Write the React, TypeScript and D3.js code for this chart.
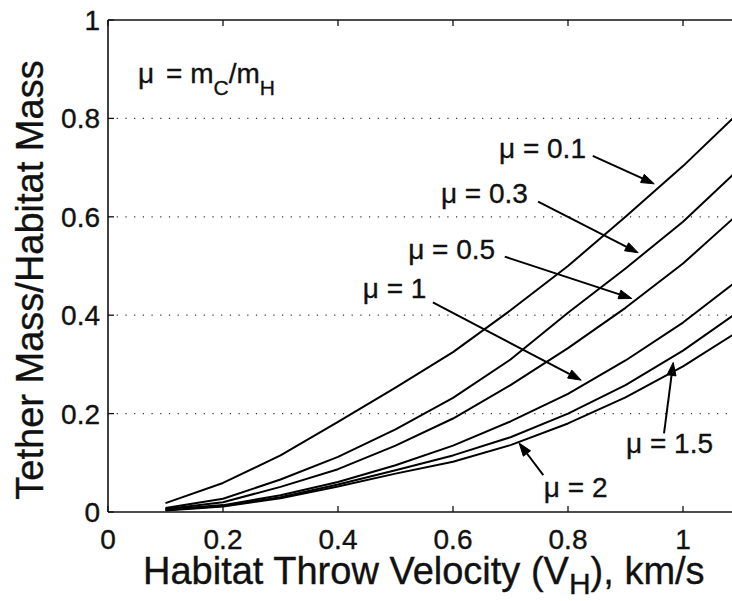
import * as d3 from 'd3';

// habitat throw velocity, km/s
const velocity = [0.1, 0.2, 0.3, 0.4, 0.5, 0.6, 0.7, 0.8, 0.9, 1.0, 1.1];

// tether mass / habitat mass, one array per mu = mC/mH
const mu01 = [0.018, 0.059, 0.115, 0.183, 0.253, 0.325, 0.41, 0.5, 0.6, 0.703, 0.815];
const mu03 = [0.008, 0.027, 0.066, 0.112, 0.168, 0.232, 0.31, 0.405, 0.495, 0.59, 0.7];
const mu05 = [0.006, 0.02, 0.051, 0.087, 0.135, 0.19, 0.258, 0.333, 0.415, 0.505, 0.61];
const mu1 = [0.005, 0.014, 0.034, 0.061, 0.095, 0.135, 0.184, 0.24, 0.308, 0.385, 0.475];
const mu15 = [0.004, 0.012, 0.03, 0.056, 0.085, 0.115, 0.152, 0.2, 0.258, 0.328, 0.41];
const mu2 = [0.003, 0.011, 0.028, 0.052, 0.078, 0.102, 0.136, 0.18, 0.233, 0.296, 0.37];

const series = [mu01, mu03, mu05, mu1, mu15, mu2];

const xTicks = [0, 0.2, 0.4, 0.6, 0.8, 1];
const yTicks = [0, 0.2, 0.4, 0.6, 0.8, 1];
const gridValues = [0.2, 0.4, 0.6, 0.8];

// curve labels: text anchor, arrow tail, arrow tip (data units)
const labels = [
  { text: '0.1', at: [0.68, 0.72], from: [0.843, 0.724], to: [0.95, 0.667] },
  { text: '0.3', at: [0.579, 0.629], from: [0.748, 0.631], to: [0.922, 0.527] },
  { text: '0.5', at: [0.522, 0.515], from: [0.69, 0.519], to: [0.911, 0.434] },
  { text: '1', at: [0.443, 0.434], from: [0.565, 0.426], to: [0.823, 0.268] },
  { text: '1.5', at: [0.901, 0.12], from: [0.967, 0.16], to: [0.983, 0.304] },
  { text: '2', at: [0.758, 0.03], from: [0.757, 0.075], to: [0.715, 0.14] },
];

const FONT = '"Liberation Sans", Arial, Helvetica, sans-serif';
const INK = '#111';

export default function App() {
  const width = 732;
  const height = 601;
  const margin = { top: 20, left: 108 };

  const x = d3.scaleLinear().domain([0, 1.1]).range([margin.left, margin.left + 632.5]);
  const y = d3.scaleLinear().domain([0, 1]).range([512, margin.top]);

  const line = d3.line<number>()
    .x((_, i) => x(velocity[i]))
    .y(d => y(d))
    .curve(d3.curveLinear);

  const fmt = d3.format('~g');

  const arrowHead = (from: number[], to: number[]) => {
    const x1 = x(from[0]), y1 = y(from[1]);
    const x2 = x(to[0]), y2 = y(to[1]);
    const a = Math.atan2(y2 - y1, x2 - x1);
    const len = 13, half = 4.5;
    const bx = x2 - len * Math.cos(a), by = y2 - len * Math.sin(a);
    const p1 = [bx + half * Math.sin(a), by - half * Math.cos(a)];
    const p2 = [bx - half * Math.sin(a), by + half * Math.cos(a)];
    return {
      shaft: `M${x1},${y1}L${bx},${by}`,
      head: `M${x2},${y2}L${p1[0]},${p1[1]}L${p2[0]},${p2[1]}Z`,
    };
  };

  const x0 = x(0), x1 = x(1.1);
  const textStroke = { stroke: INK, strokeWidth: 0.35 };

  return (
    <svg width={width} height={height} style={{ position: 'absolute', left: 0, top: 0, background: '#fff' }}
      fontFamily={FONT}>
      <rect width={width} height={height} fill="#fff" />

      {/* grid */}
      {gridValues.map(v => (
        <line key={v} x1={x0} x2={x1} y1={y(v)} y2={y(v)} stroke="#333" strokeWidth={1.2}
          strokeDasharray="1.2,7.5" />
      ))}

      {/* frame */}
      <line x1={x0} x2={x1} y1={y(0)} y2={y(0)} stroke={INK} strokeWidth={1.6} />
      <line x1={x0} x2={x1} y1={y(1)} y2={y(1)} stroke={INK} strokeWidth={1.6} />
      <line x1={x0} x2={x0} y1={y(0)} y2={y(1)} stroke={INK} strokeWidth={1.6} />

      {/* x ticks */}
      {xTicks.map(t => (
        <g key={t}>
          <line x1={x(t)} x2={x(t)} y1={y(0)} y2={y(0) - 6} stroke={INK} strokeWidth={1.3} />
          <line x1={x(t)} x2={x(t)} y1={y(1)} y2={y(1) + 6} stroke={INK} strokeWidth={1.3} />
          <text x={x(t)} y={y(0) + 37} textAnchor="middle" fontSize={28} fill={INK} {...textStroke}>{fmt(t)}</text>
        </g>
      ))}

      {/* y ticks */}
      {yTicks.map(t => (
        <g key={t}>
          <line x1={x0} x2={x0 + 6} y1={y(t)} y2={y(t)} stroke={INK} strokeWidth={1.3} />
          <text x={x0 - 8} y={y(t)} dy="0.36em" textAnchor="end" fontSize={28} fill={INK} {...textStroke}>{fmt(t)}</text>
        </g>
      ))}

      {/* curves */}
      {series.map((s, i) => (
        <path key={i} d={line(s) || ''} fill="none" stroke="#000" strokeWidth={2} strokeLinejoin="round" />
      ))}

      {/* labels and arrows */}
      {labels.map(l => {
        const a = arrowHead(l.from, l.to);
        return (
          <g key={l.text}>
            <text x={x(l.at[0])} y={y(l.at[1])} fontSize={28} fill={INK} {...textStroke}>μ = {l.text}</text>
            <path d={a.shaft} stroke="#000" strokeWidth={2} fill="none" />
            <path d={a.head} fill="#000" stroke="#000" strokeWidth={1} strokeLinejoin="miter" />
          </g>
        );
      })}

      {/* mu definition */}
      <text x={x(0.052)} y={y(0.872)} fontSize={28} fill={INK} {...textStroke}>
        μ<tspan dx={12}>= m</tspan>
        <tspan fontSize={21} dy={12}>C</tspan>
        <tspan dy={-12}>/m</tspan>
        <tspan fontSize={21} dy={12}>H</tspan>
      </text>

      {/* axis titles */}
      <text x={143} y={584} fontSize={38} fill={INK} {...textStroke}>
        Habitat Throw Velocity (V<tspan fontSize={30} dy={10}>H</tspan>
        <tspan dy={-10}>), km/s</tspan>
      </text>
      <text transform="translate(43,280) rotate(-90)" textAnchor="middle" fontSize={38} fill={INK} {...textStroke}>
        Tether Mass/Habitat Mass
      </text>
    </svg>
  );
}
